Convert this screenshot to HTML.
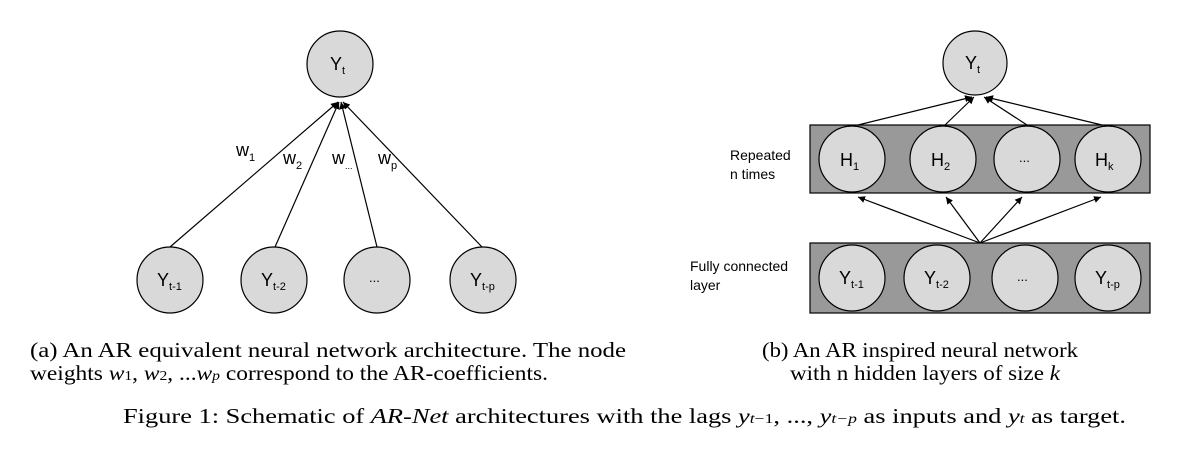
<!DOCTYPE html>
<html><head><meta charset="utf-8"><style>body{margin:0;background:#fff}svg{display:block}</style></head>
<body>
<svg width="1200" height="454" viewBox="0 0 1200 454" xmlns="http://www.w3.org/2000/svg">
<defs>
<marker id="ar" viewBox="0 0 10 10" refX="10" refY="5" markerWidth="7" markerHeight="7" orient="auto" markerUnits="userSpaceOnUse"><path d="M0,0L10,5L0,10z" fill="#000"/></marker>
</defs>
<g font-family="'Liberation Sans', Arial, sans-serif" fill="#000">
<g stroke="#000" stroke-width="1.2">
<line x1="170" y1="247" x2="338" y2="102" marker-end="url(#ar)"/>
<line x1="275" y1="247" x2="339" y2="102" marker-end="url(#ar)"/>
<line x1="377" y1="247" x2="341" y2="102" marker-end="url(#ar)"/>
<line x1="482" y1="247" x2="343" y2="102" marker-end="url(#ar)"/>
<g fill="#d9d9d9">
<circle cx="340" cy="64" r="33"/>
<circle cx="170" cy="280" r="33"/>
<circle cx="274" cy="280" r="33"/>
<circle cx="377" cy="280" r="33"/>
<circle cx="483" cy="280" r="33"/>
</g>
</g>
<g font-size="18">
<text x="330" y="70">Y<tspan font-size="11" dy="4">t</tspan></text>
<text x="157" y="286">Y<tspan font-size="11" dy="4">t-1</tspan></text>
<text x="261" y="286">Y<tspan font-size="11" dy="4">t-2</tspan></text>
<text x="369" y="282" font-size="13">...</text>
<text x="470" y="286">Y<tspan font-size="11" dy="4">t-p</tspan></text>
<text x="236" y="156">w<tspan font-size="11" dy="5">1</tspan></text>
<text x="283" y="164">w<tspan font-size="11" dy="5">2</tspan></text>
<text x="332" y="164">w<tspan font-size="9" dy="5">...</tspan></text>
<text x="378" y="164">w<tspan font-size="11" dy="5">p</tspan></text>
</g>
<g stroke="#000" stroke-width="1.2">
<rect x="810" y="125" width="340" height="68" fill="#999"/>
<rect x="810" y="243" width="340" height="70" fill="#999"/>
<line x1="858" y1="125" x2="972" y2="97" marker-end="url(#ar)"/>
<line x1="945" y1="125" x2="974" y2="97" marker-end="url(#ar)"/>
<line x1="1027" y1="125" x2="984" y2="97" marker-end="url(#ar)"/>
<line x1="1102" y1="125" x2="986" y2="97" marker-end="url(#ar)"/>
<line x1="980" y1="243" x2="858" y2="197" marker-end="url(#ar)"/>
<line x1="980" y1="243" x2="946" y2="197" marker-end="url(#ar)"/>
<line x1="980" y1="243" x2="1022" y2="197" marker-end="url(#ar)"/>
<line x1="980" y1="243" x2="1101" y2="197" marker-end="url(#ar)"/>
<g fill="#d9d9d9">
<circle cx="975" cy="63" r="32"/>
<circle cx="852" cy="159" r="33"/>
<circle cx="943" cy="159" r="33"/>
<circle cx="1027" cy="159" r="33"/>
<circle cx="1108" cy="159" r="33"/>
<circle cx="852" cy="278" r="33"/>
<circle cx="937" cy="278" r="33"/>
<circle cx="1025" cy="278" r="33"/>
<circle cx="1108" cy="278" r="33"/>
</g>
</g>
<g font-size="18">
<text x="965" y="69">Y<tspan font-size="11" dy="4">t</tspan></text>
<text x="840" y="166">H<tspan font-size="11" dy="4">1</tspan></text>
<text x="931" y="166">H<tspan font-size="11" dy="4">2</tspan></text>
<text x="1019" y="162" font-size="13">...</text>
<text x="1095" y="166">H<tspan font-size="11" dy="4">k</tspan></text>
<text x="839" y="284">Y<tspan font-size="11" dy="4">t-1</tspan></text>
<text x="924" y="284">Y<tspan font-size="11" dy="4">t-2</tspan></text>
<text x="1017" y="281" font-size="13">...</text>
<text x="1095" y="284">Y<tspan font-size="11" dy="4">t-p</tspan></text>
</g>
<g font-size="14">
<text x="730" y="160">Repeated</text>
<text x="730" y="179">n times</text>
<text x="690" y="271">Fully connected</text>
<text x="690" y="290">layer</text>
</g>
</g>
<g font-family="'Liberation Serif', 'Times New Roman', serif" font-size="21" fill="#000">
<text x="30" y="357" textLength="596" lengthAdjust="spacingAndGlyphs">(a) An AR equivalent neural network architecture.  The node</text>
<text x="30" y="380" textLength="518" lengthAdjust="spacingAndGlyphs">weights <tspan font-style="italic">w</tspan><tspan font-size="14">1</tspan>, <tspan font-style="italic">w</tspan><tspan font-size="14">2</tspan>, ...<tspan font-style="italic">w</tspan><tspan font-size="14" font-style="italic">p</tspan> correspond to the AR-coefficients.</text>
<text x="762" y="357" textLength="316" lengthAdjust="spacingAndGlyphs">(b) An AR inspired neural network</text>
<text x="790" y="380" textLength="270" lengthAdjust="spacingAndGlyphs">with n hidden layers of size <tspan font-style="italic">k</tspan></text>
<text x="123" y="423" textLength="1003" lengthAdjust="spacingAndGlyphs">Figure 1: Schematic of <tspan font-style="italic">AR-Net</tspan>  architectures with the lags <tspan font-style="italic">y</tspan><tspan font-size="14" font-style="italic">t</tspan><tspan font-size="14">−1</tspan>, ..., <tspan font-style="italic">y</tspan><tspan font-size="14" font-style="italic">t−p</tspan> as inputs and <tspan font-style="italic">y</tspan><tspan font-size="14" font-style="italic">t</tspan> as target.</text>
</g>
</svg>
</body></html>
